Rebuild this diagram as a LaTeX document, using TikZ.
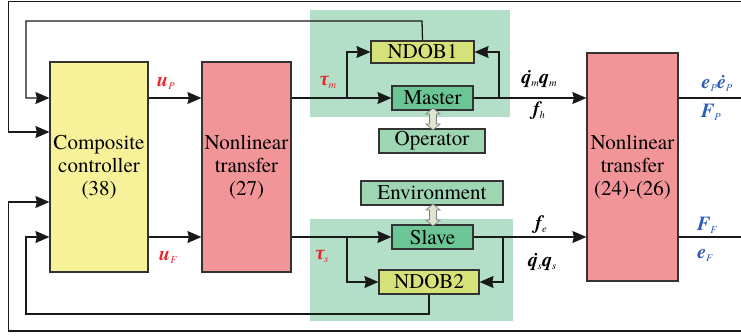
\documentclass[tikz,border=0pt]{standalone}
\usepackage{fontspec}
\setmainfont{texgyretermes}[Extension=.otf,
  UprightFont=*-regular,BoldFont=*-bold,
  ItalicFont=*-italic,BoldItalicFont=*-bolditalic]
\newfontfamily\greekfont{Liberation Serif}
\usetikzlibrary{arrows.meta,calc}

\definecolor{ctrlyellow}{HTML}{F7F29A}
\definecolor{nlpink}{HTML}{F29598}
\definecolor{sysbg}{HTML}{B3DFC8}
\definecolor{robotgreen}{HTML}{6BC595}
\definecolor{obsyellow}{HTML}{D5E27A}
\definecolor{envgreen}{HTML}{9ED6B4}
\definecolor{sigred}{HTML}{E8262B}
\definecolor{sigblue}{HTML}{2C5BB8}
\definecolor{edge}{HTML}{333333}
\definecolor{dblfill}{HTML}{DDE5D0}

% signal label: bold italic symbol with a small italic subscript
\newcommand{\sig}[2]{{\bfseries\itshape #1}\raisebox{-3pt}{\fontsize{10.5}{10.5}\selectfont\itshape #2}}
% hollow two-headed arrow between two heights at a given x
\newcommand{\twohead}[3]{%
  \path[dblarr] (#1,#2) -- (#1+7,#2+6) -- (#1+3.5,#2+6) -- (#1+3.5,#3-6) -- (#1+7,#3-6)
    -- (#1,#3) -- (#1-7,#3-6) -- (#1-3.5,#3-6) -- (#1-3.5,#2+6) -- (#1-7,#2+6) -- cycle;}

\begin{document}
\begin{tikzpicture}[x=1pt,y=-1pt,
  box/.style={draw=edge,line width=1.2pt,inner sep=0pt,align=center,
              font=\fontsize{21}{23}\selectfont},
  blk/.style={box,minimum width=#1},
  small/.style={box,minimum height=24pt},
  wire/.style={line width=1.3pt,draw=black!90},
  arr/.style={wire,-{Stealth[length=14pt,width=12pt,inset=1.5pt]}},
  lab/.style={inner sep=0pt,font=\fontsize{20}{20}\selectfont},
  dblarr/.style={fill=dblfill,draw=black!50,line width=0.7pt}]

\useasboundingbox (0,0) rectangle (741,336);

% shaded subsystem regions
\fill[sysbg] (310,10) rectangle (510,117);
\fill[sysbg] (310,219) rectangle (513,321);

% main blocks
\node[blk=98pt,minimum height=210pt,fill=ctrlyellow] (ctrl) at (99,167)
  {Composite\\controller\\(38)};
\node[blk=89pt,minimum height=210pt,fill=nlpink] (nla) at (246.5,167)
  {Nonlinear\\transfer\\(27)};
\node[blk=91pt,minimum height=228pt,fill=nlpink] (nlb) at (632.5,167)
  {Nonlinear\\transfer\\(24)-(26)};

% master side
\node[small,minimum width=103pt,minimum height=22pt,fill=obsyellow] (ndob1) at (422.5,52) {NDOB1};
\node[small,minimum width=81pt,fill=robotgreen] (master) at (432.5,98) {Master};
\node[small,minimum width=106pt,fill=envgreen] (oper) at (432,141) {Operator};

% slave side
\node[small,minimum width=142pt,fill=envgreen] (env) at (432,193) {Environment};
\node[small,minimum width=81pt,fill=robotgreen] (slave) at (432.5,237) {Slave};
\node[small,minimum width=100pt,fill=obsyellow] (ndob2) at (429,282) {NDOB2};

% junction and routing points
\coordinate (jm) at (347,98);
\coordinate (jmo) at (499,98);
\coordinate (js) at (347,237);
\coordinate (jso) at (503,237);
\coordinate (topout) at (742,1.5);
\coordinate (botout) at (742,331);
\coordinate (rp) at (742,98);
\coordinate (rf) at (742,237);

% forward path
\draw[arr] (ctrl.east |- 0,98) -- (nla.west |- 0,98);
\draw[arr] (ctrl.east |- 0,237) -- (nla.west |- 0,237);
\draw[wire] (nla.east |- jm) -- (jm);
\draw[arr] (jm) -- (master.west);
\draw[arr] (jm) |- (ndob1.west);
\draw[wire] (master.east) -- (jmo);
\draw[arr] (jmo) |- (ndob1.east);
\draw[arr] (jmo) -- (nlb.west |- jmo);
\draw[wire] (nla.east |- js) -- (js);
\draw[arr] (js) -- (slave.west);
\draw[arr] (js) |- (ndob2.west);
\draw[wire] (slave.east) -- (jso);
\draw[arr] (jso) |- (ndob2.east);
\draw[arr] (jso) -- (nlb.west |- jso);
\draw[wire] (nlb.east |- rp) -- (rp);
\draw[wire] (nlb.east |- rf) -- (rf);

% feedback loops
\draw[arr] (ndob1.north) -- (422,21) -| (26,60) |- (ctrl.west |- 0,98);
\draw[arr] (topout) -| (8.5,60) |- (ctrl.west |- 0,132);
\draw[arr] (ndob2.south) -- (429,314) -| (26,280) |- (ctrl.west |- 0,237);
\draw[arr] (botout) -| (8.5,280) |- (ctrl.west |- 0,202);

% operator / environment interaction
\twohead{433}{108}{130}
\twohead{433}{204}{226}

% signal labels
\node[lab,text=sigred] (lup) at (166,83) {\sig{u}{P}};
\node[lab,text=sigred] (luf) at (168,257) {\sig{u}{F}};
\node[lab,text=sigred] (ltm) at (328,82) {\sig{\greekfont τ}{m}};
\node[lab,text=sigred] (lts) at (322,256) {\sig{\greekfont τ}{s}};
\node[lab] (lqm) at (539,79) {\sig{\.q}{m}\sig{q}{m}};
\node[lab] (lfh) at (539,111) {\sig{f}{h}};
\node[lab] (lfe) at (541,225) {\sig{f}{e}};
\node[lab] (lqs) at (542,262) {\sig{\.q}{s}\sig{q}{s}};
\node[lab,text=sigblue] (lep) at (717,83) {\sig{e}{P}\sig{\.e}{P}};
\node[lab,text=sigblue] (lfp) at (711,112) {\sig{F}{P}};
\node[lab,text=sigblue] (lff) at (707,225) {\sig{F}{F}};
\node[lab,text=sigblue] (lef) at (705,255) {\sig{e}{F}};
\end{tikzpicture}
\end{document}
